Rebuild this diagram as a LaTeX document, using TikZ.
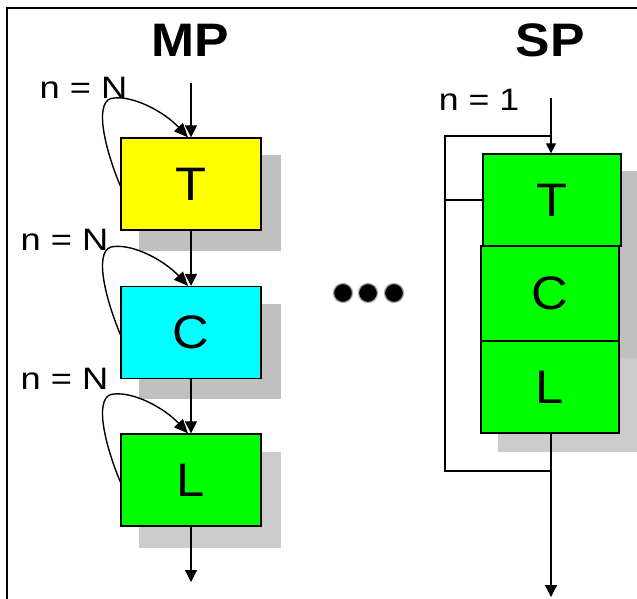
\documentclass[tikz,border=0pt]{standalone}
\usepackage{fontspec}
\setmainfont{Liberation Sans}
\usetikzlibrary{arrows.meta,calc,backgrounds}
\definecolor{shadeA}{RGB}{192,192,192}
\definecolor{shadeB}{RGB}{204,204,204}
\definecolor{boxyellow}{RGB}{255,255,0}
\definecolor{boxcyan}{RGB}{0,255,255}
\definecolor{boxgreen}{RGB}{0,255,0}
\newcommand{\widetext}[2]{\scalebox{#1}[1]{#2}}
\begin{document}
\begin{tikzpicture}[x=1pt,y=-1pt,
  stagebox/.style={draw=black,line width=1.3pt,minimum width=140pt,minimum height=92pt,inner sep=0pt,font=\fontsize{47}{50}\selectfont},
  flow/.style={line width=1.2pt,-{Triangle[length=12pt,width=12pt]}},
  flowsmall/.style={line width=1.2pt,-{Triangle[length=10pt,width=10pt]}},
  plain/.style={line width=1.2pt},
  loopline/.style={line width=1.4pt,-{Triangle[length=14pt,width=12pt]}},
  lbl/.style={inner sep=0pt,font=\fontsize{31}{34}\selectfont},
  titletext/.style={inner sep=0pt,font=\bfseries\fontsize{47}{50}\selectfont},
  dotnode/.style={circle,fill=black,draw=black!35,line width=1.2pt,minimum size=19pt,inner sep=0pt}]
\useasboundingbox (0,0) rectangle (637,599);

% stages
\node[stagebox,fill=boxyellow] (mpT) at (191,184) {\widetext{1.08}{T}};
\node[stagebox,fill=boxcyan] (mpC) at (191,332.5) {\widetext{1.08}{C}};
\node[stagebox,fill=boxgreen] (mpL) at (191,480) {\widetext{1.08}{L}};
\node[stagebox,fill=boxgreen,minimum width=138pt] (spT) at (552,200) {\widetext{1.08}{T}};
\node[stagebox,fill=boxgreen,minimum width=138pt,minimum height=95pt] (spC) at (550,293.5) {\widetext{1.08}{C}};
\node[stagebox,fill=boxgreen,minimum width=138pt] (spL) at (550,387) {\widetext{1.08}{L}};

% shadows
\begin{scope}[on background layer]
\fill[white] (0,0) rectangle (637,599);
\fill[shadeA] ($(mpT.north west)+(19,18)$) rectangle ($(mpT.south east)+(19,20)$);
\fill[shadeA] ($(mpC.north west)+(19,18)$) rectangle ($(mpC.south east)+(19,20)$);
\fill[shadeB] ($(mpL.north west)+(19,19)$) rectangle ($(mpL.south east)+(19,21)$);
\fill[shadeA] ($(spT.north west)+(18,18)$) rectangle ($(spT.south east)+(18,18)$);
\fill[shadeA] ($(spC.north west)+(18,18)$) rectangle ($(spC.south east)+(18,18)$);
\fill[shadeB] ($(spL.north west)+(18,18)$) rectangle ($(spL.south east)+(18,18)$);
\end{scope}

% titles and labels
\node[titletext] (mpTitle) at (190,40) {\widetext{1.1}{MP}};
\node[titletext] (spTitle) at (550,40) {\widetext{1.1}{SP}};
\node[lbl] (nN1) at (83.5,88) {\widetext{1.17}{n = N}};
\node[lbl] (nN2) at (64.5,240) {\widetext{1.17}{n = N}};
\node[lbl] (nN3) at (64.5,379) {\widetext{1.17}{n = N}};
\node[lbl] (nOne) at (479,100) {\widetext{1.15}{n = 1}};

% dots
\node[dotnode] (d1) at (343,293) {};
\node[dotnode] (d2) at (368,293) {};
\node[dotnode] (d3) at (394,293) {};

% coordinates
\coordinate (mpIn) at (191,83);
\coordinate (mpOut) at (191,582);
\coordinate (spIn) at (551,98);
\coordinate (spOut) at (551,597);
\coordinate (spTop) at (551,136);
\coordinate (spBot) at (551,471);
\coordinate (brTL) at (445,136);
\coordinate (brBL) at (445,471);
\coordinate (brMid) at (445,200);

% MP flow
\draw[flow] (mpIn) -- (mpT.north);
\draw[flow] (mpT.south) -- (mpC.north);
\draw[flow] (mpC.south) -- (mpL.north);
\draw[flow] (mpL.south) -- (mpOut);

% loops
\foreach \n in {mpT,mpC,mpL}{
  \draw[loopline] ([yshift=-2pt]\n.west)
    .. controls ($(\n.west)+(-17,-39)$) and ($(\n.west)+(-27,-86)$) .. ($(\n.west)+(-6,-86)$)
    .. controls ($(\n.west)+(14,-88)$) and ($(\n.west)+(44,-72)$) .. ([xshift=-3pt]\n.north);
}

% SP flow
\draw[flowsmall] (spIn) -- (spIn |- spT.north);
\draw[plain] (spTop) -- (brTL) -- (brBL) -- (spBot);
\draw[plain] (brMid) -- (brMid -| spT.west);
\draw[flow] (spL.south -| spIn) -- (spOut);

% frame
\draw[line width=2pt] (7,599) -- (7,8) -- (637,8);
\end{tikzpicture}
\end{document}
